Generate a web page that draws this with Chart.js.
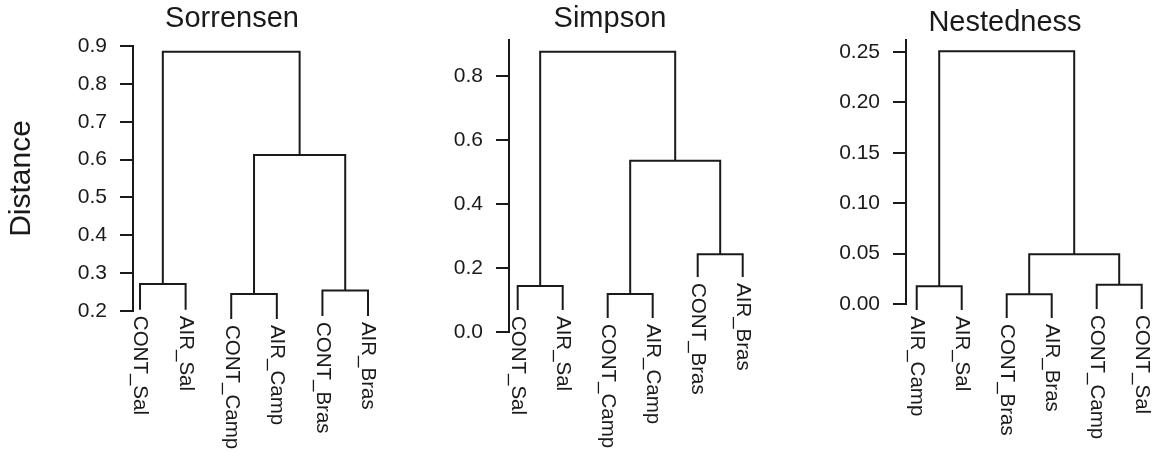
<!DOCTYPE html>
<html lang="en">
<head>
<meta charset="UTF-8">
<title>Dendrogrammes Sorrensen / Simpson / Nestedness</title>
<script src="https://cdn.jsdelivr.net/npm/chart.js"></script>
<style>
  html, body { margin: 0; padding: 0; background: #fff; overflow: hidden; }
  #wrap { position: relative; width: 1157px; height: 452px; overflow: hidden; }
  #wrap canvas { position: absolute; left: 0; top: 0; }
</style>
</head>
<body>
<div id="wrap">
  <canvas id="sorrensen" width="1300" height="452"></canvas>
  <canvas id="simpson" width="1300" height="452"></canvas>
  <canvas id="nested" width="1300" height="452"></canvas>
</div>

<script>
// --- values ---
// merges: negative = leaf (1-based), positive = earlier merge row (like R hclust)

const sorLeaves = ['CONT_Sal', 'AIR_Sal', 'CONT_Camp', 'AIR_Camp', 'CONT_Bras', 'AIR_Bras'];
const sorLeafEnds = [0.203, 0.203, 0.179, 0.179, 0.187, 0.187];
const sorMerges = [[-1, -2], [-3, -4], [-5, -6], [2, 3], [1, 4]];
const sorHeights = [0.271, 0.245, 0.254, 0.612, 0.885];
const sorTicks = ['0.2', '0.3', '0.4', '0.5', '0.6', '0.7', '0.8', '0.9'];

const simLeaves = ['CONT_Sal', 'AIR_Sal', 'CONT_Camp', 'AIR_Camp', 'CONT_Bras', 'AIR_Bras'];
const simLeafEnds = [0.069, 0.069, 0.044, 0.044, 0.172, 0.172];
const simMerges = [[-1, -2], [-3, -4], [-5, -6], [2, 3], [1, 4]];
const simHeights = [0.144, 0.119, 0.243, 0.536, 0.877];
const simTicks = ['0.0', '0.2', '0.4', '0.6', '0.8'];

const nesLeaves = ['AIR_Camp', 'AIR_Sal', 'CONT_Bras', 'AIR_Bras', 'CONT_Camp', 'CONT_Sal'];
const nesLeafEnds = [-0.006, -0.006, -0.014, -0.014, -0.005, -0.005];
const nesMerges = [[-1, -2], [-3, -4], [-5, -6], [2, 3], [1, 4]];
const nesHeights = [0.0175, 0.0097, 0.019, 0.0494, 0.2508];
const nesTicks = ['0.00', '0.05', '0.10', '0.15', '0.20', '0.25'];

const INK = '#1a1a1a';
const FONT = "'Liberation Sans', Arial, Helvetica, sans-serif";
const CW = 1300, H = 452;
const TITLE_SIZE = 29;

// layout of each panel (pixels in the page)
const panels = [
    { id: 'sorrensen', title: 'Sorrensen', yTitle: 'Distance',
      leaves: sorLeaves, ends: sorLeafEnds, merges: sorMerges, heights: sorHeights, ticks: sorTicks,
      yMin: 0.2, yMax: 0.9, xMin: 0.846, xMax: 6.197,
      axisX: 133, axisW: 133, rightX: 377, titleX: 232, titleTop: 1.5, top: 46, bottom: 311 },
    { id: 'simpson', title: 'Simpson',
      leaves: simLeaves, ends: simLeafEnds, merges: simMerges, heights: simHeights, ticks: simTicks,
      yMin: 0, yMax: 0.914, xMin: 0.807, xMax: 6.2,
      axisX: 509, axisW: 100, rightX: 751.7, titleX: 610, titleTop: 2, top: 40, bottom: 332 },
    { id: 'nested', title: 'Nestedness',
      leaves: nesLeaves, ends: nesLeafEnds, merges: nesMerges, heights: nesHeights, ticks: nesTicks,
      yMin: 0, yMax: 0.262, xMin: 0.762, xMax: 6.2,
      axisX: 906, axisW: 100, rightX: 1150.7, titleX: 1005, titleTop: 5.5, top: 40, bottom: 304 }
];

// one U-shaped path per merge
function buildSegments(ends, merges, heights) {
    const nodeX = [];
    const child = c => c < 0 ? { x: -c, y: ends[-c - 1] } : { x: nodeX[c - 1], y: heights[c - 1] };
    return merges.map((m, i) => {
        const a = child(m[0]), b = child(m[1]);
        nodeX[i] = (a.x + b.x) / 2;
        return [
            { x: a.x, y: a.y }, { x: a.x, y: heights[i] },
            { x: b.x, y: heights[i] }, { x: b.x, y: b.y }
        ];
    });
}

// leaf labels hang under each leaf, rotated
const leafLabels = {
    id: 'leafLabels',
    afterDatasetsDraw(chart, args, opts) {
        const ctx = chart.ctx;
        const xs = chart.scales.x, ys = chart.scales.y;
        ctx.save();
        ctx.fillStyle = INK;
        ctx.font = '20.5px ' + FONT;
        ctx.textAlign = 'left';
        ctx.textBaseline = 'middle';
        opts.labels.forEach((lab, i) => {
            const px = xs.getPixelForValue(i + 1);
            const py = ys.getPixelForValue(opts.ends[i]) + 6;
            ctx.save();
            ctx.translate(px, py);
            ctx.rotate(Math.PI / 2);
            ctx.fillText(lab, 0, 0);
            ctx.restore();
        });
        ctx.restore();
    }
};

panels.forEach(p => {
    const padL = p.axisX - p.axisW;
    const boxRight = 2 * p.titleX - padL;
    const padR = CW - boxRight;
    const dummyW = boxRight - p.rightX;
    const lineH = TITLE_SIZE * 1.2;

    const datasets = buildSegments(p.ends, p.merges, p.heights).map(seg => ({
        data: seg,
        showLine: true,
        borderColor: INK,
        borderWidth: 2,
        pointRadius: 0,
        tension: 0,
        clip: false
    }));

    new Chart(document.getElementById(p.id), {
        type: 'scatter',
        data: { datasets },
        options: {
            responsive: false,
            animation: false,
            layout: { padding: { left: padL, right: padR, top: 0, bottom: H - p.bottom } },
            plugins: {
                legend: { display: false },
                tooltip: { enabled: false },
                title: {
                    display: true,
                    text: p.title,
                    color: INK,
                    font: { family: FONT, size: TITLE_SIZE, weight: 'normal' },
                    padding: { top: p.titleTop, bottom: p.top - p.titleTop - lineH }
                },
                leafLabels: { labels: p.leaves, ends: p.ends }
            },
            scales: {
                x: { type: 'linear', display: false, min: p.xMin, max: p.xMax },
                y: {
                    type: 'linear',
                    position: 'left',
                    min: p.yMin,
                    max: p.yMax,
                    afterBuildTicks: s => { s.ticks = p.ticks.map(t => ({ value: parseFloat(t) })); },
                    afterFit: s => { s.width = p.axisW; },
                    ticks: {
                        color: INK,
                        padding: 13,
                        font: { family: FONT, size: 21 },
                        callback: (v, i) => p.ticks[i]
                    },
                    grid: { drawOnChartArea: false, drawTicks: true, tickLength: 13, color: INK, lineWidth: 2, tickWidth: 2 },
                    border: { display: true, color: INK, width: 2 },
                    title: {
                        display: !!p.yTitle,
                        text: p.yTitle || '',
                        color: INK,
                        font: { family: FONT, size: 30 },
                        padding: { top: 4, bottom: 0 }
                    }
                },
                pad: {
                    type: 'linear',
                    position: 'right',
                    display: true,
                    ticks: { display: false },
                    grid: { display: false },
                    border: { display: false },
                    afterFit: s => { s.width = Math.max(dummyW, 0); }
                }
            }
        },
        plugins: [leafLabels]
    });
});
</script>
</body>
</html>
